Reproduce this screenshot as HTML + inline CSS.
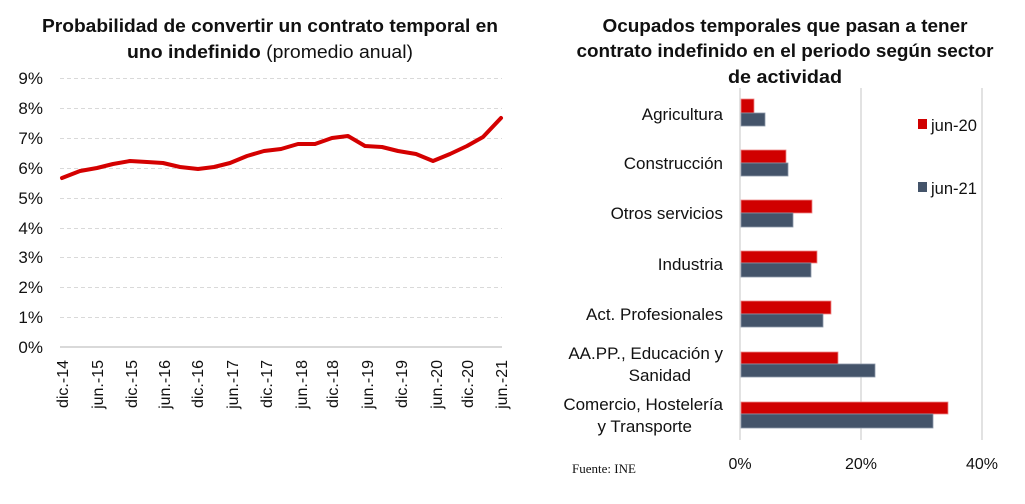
<!DOCTYPE html>
<html><head><meta charset="utf-8"><style>
html,body{margin:0;padding:0;background:#fff;}
svg{display:block;}
text{font-family:"Liberation Sans",sans-serif;fill:#111;}
</style></head><body>
<svg width="1025" height="504" viewBox="0 0 1025 504" xmlns="http://www.w3.org/2000/svg">
<rect width="1025" height="504" fill="#fff"/>
<!-- LEFT CHART -->
<text x="270" y="32" text-anchor="middle" font-size="18" font-weight="bold" textLength="456" lengthAdjust="spacingAndGlyphs">Probabilidad de convertir un contrato temporal en</text>
<text x="270" y="58" text-anchor="middle" font-size="18" textLength="286" lengthAdjust="spacingAndGlyphs"><tspan font-weight="bold">uno indefinido</tspan> (promedio anual)</text>
<g stroke="#d9d9d9" stroke-width="1" stroke-dasharray="4 3">
<line x1="60" y1="78.5" x2="502" y2="78.5"/>
<line x1="60" y1="108.5" x2="502" y2="108.5"/>
<line x1="60" y1="138.5" x2="502" y2="138.5"/>
<line x1="60" y1="168.5" x2="502" y2="168.5"/>
<line x1="60" y1="198.5" x2="502" y2="198.5"/>
<line x1="60" y1="228.5" x2="502" y2="228.5"/>
<line x1="60" y1="257.5" x2="502" y2="257.5"/>
<line x1="60" y1="287.5" x2="502" y2="287.5"/>
<line x1="60" y1="317.5" x2="502" y2="317.5"/>
</g>
<line x1="60" y1="347" x2="502" y2="347" stroke="#d9d9d9" stroke-width="2"/>
<g font-size="17" text-anchor="end">
<text x="43" y="84">9%</text>
<text x="43" y="114">8%</text>
<text x="43" y="144">7%</text>
<text x="43" y="174">6%</text>
<text x="43" y="204">5%</text>
<text x="43" y="234">4%</text>
<text x="43" y="263">3%</text>
<text x="43" y="293">2%</text>
<text x="43" y="323">1%</text>
<text x="43" y="353">0%</text>
</g>
<polyline fill="none" stroke="#d40000" stroke-width="4" stroke-linejoin="round" stroke-linecap="round"
points="62,178 80,171 97,168 113,164 130,161 147,162 163,163 180,167 198,169 214,167 230,163 247,156 264,151 281,149 298,144 315,144 332,138 348,136 365,146 382,147 398,151 416,154 433,161 450,154 467,146 483,137 501,118"/>
<g font-size="16" text-anchor="end">
<text transform="translate(68,360) rotate(-90)">dic.-14</text>
<text transform="translate(103,360) rotate(-90)">jun.-15</text>
<text transform="translate(137,360) rotate(-90)">dic.-15</text>
<text transform="translate(170,360) rotate(-90)">jun.-16</text>
<text transform="translate(203,360) rotate(-90)">dic.-16</text>
<text transform="translate(238,360) rotate(-90)">jun.-17</text>
<text transform="translate(272,360) rotate(-90)">dic.-17</text>
<text transform="translate(307,360) rotate(-90)">jun.-18</text>
<text transform="translate(338,360) rotate(-90)">dic.-18</text>
<text transform="translate(373,360) rotate(-90)">jun.-19</text>
<text transform="translate(407,360) rotate(-90)">dic.-19</text>
<text transform="translate(442,360) rotate(-90)">jun.-20</text>
<text transform="translate(473,360) rotate(-90)">dic.-20</text>
<text transform="translate(507,360) rotate(-90)">jun.-21</text>
</g>

<!-- RIGHT CHART -->
<g font-size="18" font-weight="bold" text-anchor="middle">
<text x="785" y="32" textLength="365" lengthAdjust="spacingAndGlyphs">Ocupados temporales que pasan a tener</text>
<text x="785" y="57" textLength="417" lengthAdjust="spacingAndGlyphs">contrato indefinido en el periodo según sector</text>
<text x="785" y="83" textLength="114" lengthAdjust="spacingAndGlyphs">de actividad</text>
</g>
<g stroke="#d9d9d9" stroke-width="1.5">
<line x1="740" y1="88" x2="740" y2="440"/>
<line x1="861" y1="88" x2="861" y2="440"/>
<line x1="982" y1="88" x2="982" y2="440"/>
</g>
<g stroke-width="0.8">
<rect x="741" y="99" width="13" height="14" fill="#d00000" stroke="#e88"/>
<rect x="741" y="113" width="24" height="13" fill="#44546a" stroke="#8a96a8"/>
<rect x="741" y="150" width="45" height="13" fill="#d00000" stroke="#e88"/>
<rect x="741" y="163" width="47" height="13" fill="#44546a" stroke="#8a96a8"/>
<rect x="741" y="200" width="71" height="13" fill="#d00000" stroke="#e88"/>
<rect x="741" y="213" width="52" height="14" fill="#44546a" stroke="#8a96a8"/>
<rect x="741" y="251" width="76" height="12" fill="#d00000" stroke="#e88"/>
<rect x="741" y="263" width="70" height="14" fill="#44546a" stroke="#8a96a8"/>
<rect x="741" y="301" width="90" height="13" fill="#d00000" stroke="#e88"/>
<rect x="741" y="314" width="82" height="13" fill="#44546a" stroke="#8a96a8"/>
<rect x="741" y="352" width="97" height="12" fill="#d00000" stroke="#e88"/>
<rect x="741" y="364" width="134" height="13" fill="#44546a" stroke="#8a96a8"/>
<rect x="741" y="402" width="207" height="12" fill="#d00000" stroke="#e88"/>
<rect x="741" y="414" width="192" height="14" fill="#44546a" stroke="#8a96a8"/>
</g>
<g font-size="17" text-anchor="end">
<text x="723" y="120">Agricultura</text>
<text x="723" y="169">Construcción</text>
<text x="723" y="219">Otros servicios</text>
<text x="723" y="270">Industria</text>
<text x="723" y="320">Act. Profesionales</text>
<text x="723" y="359">AA.PP., Educación y</text>
<text x="691" y="381">Sanidad</text>
<text x="723" y="410">Comercio, Hostelería</text>
<text x="692" y="432">y Transporte</text>
</g>
<rect x="918" y="119" width="9" height="10" fill="#d00000"/>
<text x="931" y="131" font-size="16.5">jun-20</text>
<rect x="918" y="182" width="9" height="10" fill="#44546a"/>
<text x="931" y="194" font-size="16.5">jun-21</text>
<g font-size="16" text-anchor="middle">
<text x="740" y="469">0%</text>
<text x="861" y="469">20%</text>
<text x="982" y="469">40%</text>
</g>
<text x="572" y="473" font-size="13" style="font-family:'Liberation Serif',serif">Fuente: INE</text>
</svg>
</body></html>
